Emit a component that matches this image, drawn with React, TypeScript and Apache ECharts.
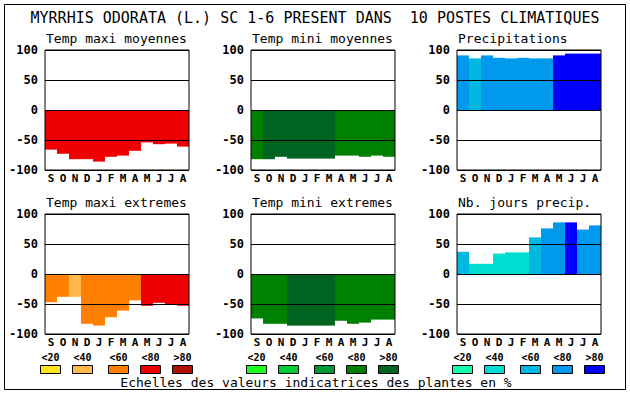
import React, { useEffect, useRef } from "react";
import * as echarts from "echarts";

const months = ["S", "O", "N", "D", "J", "F", "M", "A", "M", "J", "J", "A"];
const yMin = -100;
const yMax = 100;
const yInterval = 50;

const mainTitle = "MYRRHIS ODORATA (L.) SC 1-6 PRESENT DANS  10 POSTES CLIMATIQUES";
const panelTitles = [
  "Temp maxi moyennes",
  "Temp mini moyennes",
  "Precipitations",
  "Temp maxi extremes",
  "Temp mini extremes",
  "Nb. jours precip.",
];

const tempMaxiMoy = [-66, -73, -82, -82, -86, -78, -76, -68, -54, -57, -56, -61];
const tempMaxiMoyCls = [3, 3, 3, 3, 3, 3, 3, 3, 3, 3, 3, 3];
const tempMiniMoy = [-82, -82, -78, -81, -81, -81, -81, -76, -76, -78, -76, -78];
const tempMiniMoyCls = [3, 4, 4, 4, 4, 4, 4, 3, 3, 3, 3, 3];
const precip = [91, 86, 91, 87, 86, 87, 86, 86, 91, 94, 94, 94];
const precipCls = [3, 2, 3, 3, 3, 3, 3, 3, 4, 4, 4, 4];
const tempMaxiExt = [-47, -38, -38, -83, -86, -72, -61, -44, -53, -48, -50, -53];
const tempMaxiExtCls = [2, 2, 1, 2, 2, 2, 2, 2, 3, 3, 3, 3];
const tempMiniExt = [-74, -83, -83, -86, -86, -86, -86, -78, -83, -81, -76, -76];
const tempMiniExtCls = [3, 3, 3, 4, 4, 4, 4, 3, 3, 3, 3, 3];
const joursPrecip = [37, 17, 17, 34, 36, 36, 61, 76, 86, 86, 74, 81];
const joursPrecipCls = [2, 1, 1, 1, 1, 1, 2, 3, 3, 4, 3, 3];

const warmPalette = ["#FFE41C", "#FFB84D", "#FF8000", "#EE0000", "#B01000"];
const greenPalette = ["#1CFF1C", "#00CC33", "#009933", "#008000", "#006420"];
const bluePalette = ["#11FFAA", "#00DDD0", "#00B8E0", "#0099EE", "#0000FF"];
const legendLabels = ["<20", "<40", "<60", "<80", ">80"];
const legendCaption = "Echelles des valeurs indicatrices des plantes en %";

const MONO = '"DejaVu Sans Mono", monospace';

export default function App() {
  const ref = useRef<HTMLDivElement>(null);

  useEffect(() => {
    if (!ref.current) return;
    const chart = echarts.init(ref.current, null, { renderer: "svg" });

    const panels = [
      { values: tempMaxiMoy, cls: tempMaxiMoyCls, pal: warmPalette },
      { values: tempMiniMoy, cls: tempMiniMoyCls, pal: greenPalette },
      { values: precip, cls: precipCls, pal: bluePalette },
      { values: tempMaxiExt, cls: tempMaxiExtCls, pal: warmPalette },
      { values: tempMiniExt, cls: tempMiniExtCls, pal: greenPalette },
      { values: joursPrecip, cls: joursPrecipCls, pal: bluePalette },
    ];
    const lefts = [45, 251, 457];
    const tops = [50, 214];
    const pw = 144;
    const ph = 120;

    const grids: any[] = [];
    const xAxes: any[] = [];
    const yAxes: any[] = [];
    const series: any[] = [];
    const graphics: any[] = [];

    panels.forEach((p, i) => {
      const left = lefts[i % 3];
      const top = tops[Math.floor(i / 3)];
      grids.push({
        left,
        top,
        width: pw,
        height: ph,
        show: true,
        borderColor: "#000",
        borderWidth: 1,
        backgroundColor: "rgba(0,0,0,0)",
        z: 6,
      });
      xAxes.push({
        type: "category",
        gridIndex: i,
        data: months,
        axisLine: { show: false },
        axisTick: { show: false },
        axisLabel: {
          interval: 0,
          margin: 3,
          color: "#000",
          fontFamily: MONO,
          fontWeight: "bold",
          fontSize: 11,
          lineHeight: 11,
        },
        splitLine: { show: false },
      });
      yAxes.push({
        type: "value",
        gridIndex: i,
        min: yMin,
        max: yMax,
        interval: yInterval,
        z: 5,
        axisLine: { show: false },
        axisTick: { show: false },
        axisLabel: {
          margin: 7,
          color: "#000",
          fontFamily: MONO,
          fontWeight: "bold",
          fontSize: 12,
        },
        splitLine: { show: true, lineStyle: { color: "#000", width: 1 } },
      });
      series.push({
        type: "bar",
        xAxisIndex: i,
        yAxisIndex: i,
        barCategoryGap: "0%",
        barGap: "0%",
        silent: true,
        data: p.values.map((v, j) => ({
          value: v,
          itemStyle: { color: p.pal[p.cls[j]] },
        })),
      });
      graphics.push({
        type: "text",
        x: left + 1,
        y: top - 12,
        style: {
          text: panelTitles[i],
          font: `13px ${MONO}`,
          fill: "#000",
          align: "left",
          verticalAlign: "middle",
        },
      });
    });

    // outer frame
    graphics.push({
      type: "rect",
      shape: { x: 4.5, y: 4.5, width: 621, height: 385 },
      style: { fill: "none", stroke: "#000", lineWidth: 1 },
    });
    graphics.push({
      type: "text",
      x: 315,
      y: 18,
      style: {
        text: mainTitle,
        font: `15px ${MONO}`,
        fill: "#000",
        align: "center",
        verticalAlign: "middle",
      },
    });

    const boxOffsets = [-5, 27, 63, 95, 127];
    const pals = [warmPalette, greenPalette, bluePalette];
    pals.forEach((pal, g) => {
      const base = lefts[g];
      pal.forEach((c, k) => {
        const bx = base + boxOffsets[k];
        graphics.push({
          type: "rect",
          shape: { x: bx + 0.5, y: 365.5, width: 20, height: 8 },
          style: { fill: c, stroke: "#000", lineWidth: 1 },
        });
        graphics.push({
          type: "text",
          x: bx + 10.5,
          y: 357,
          style: {
            text: legendLabels[k],
            font: `bold 10px ${MONO}`,
            fill: "#000",
            align: "center",
            verticalAlign: "middle",
          },
        });
      });
    });
    graphics.push({
      type: "text",
      x: 316,
      y: 382,
      style: {
        text: legendCaption,
        font: `13px ${MONO}`,
        fill: "#000",
        align: "center",
        verticalAlign: "middle",
      },
    });

    chart.setOption({
      animation: false,
      backgroundColor: "#fff",
      grid: grids,
      xAxis: xAxes,
      yAxis: yAxes,
      series,
      graphic: graphics,
    });

    return () => chart.dispose();
  }, []);

  return (
    <div
      ref={ref}
      style={{ position: "absolute", left: 0, top: 0, width: 630, height: 394, background: "#fff" }}
    />
  );
}
